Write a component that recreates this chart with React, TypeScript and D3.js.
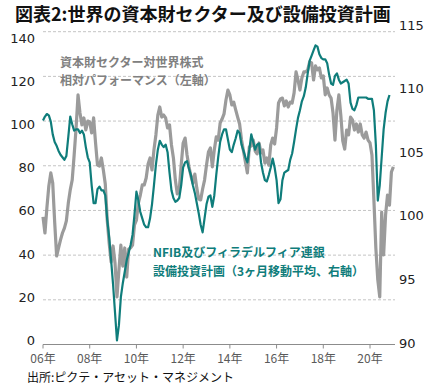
import * as d3 from "d3";

// monthly, from Jan 2006
const START_YEAR = 2006;

// 資本財セクター対世界株式 相対パフォーマンス (left axis)
const relPerf = [
  57.1, 49.9, 61.1, 71.0, 76.8, 72.3, 54.8, 39.6, 43.2, 46.8, 49.9, 52.1,
  55.3, 63.3, 69.2, 73.6, 84.8, 96.9, 111.7, 103.6, 98.3, 101.4, 96.0, 100.0,
  99.6, 94.7, 101.4, 90.2, 80.3, 79.9, 83.5, 78.1, 71.8, 55.7, 45.4, 36.9,
  44.1, 36.5, 21.3, 33.3, 44.5, 35.1, 43.2, 30.2, 42.7, 43.2, 44.5, 53.5,
  55.7, 63.3, 66.9, 71.4, 71.4, 74.5, 80.8, 83.5, 78.1, 87.1, 93.8, 102.7,
  106.3, 101.8, 102.7, 101.4, 96.9, 98.3, 89.3, 83.5, 73.6, 67.4, 69.2, 80.3,
  90.2, 92.4, 84.8, 79.5, 75.4, 72.3, 76.3, 70.1, 65.1, 64.7, 69.6, 73.6,
  80.3, 86.2, 88.0, 79.5, 87.1, 92.9, 91.5, 99.1, 100.9, 103.2, 109.4, 113.9,
  111.7, 107.2, 108.5, 105.0, 101.8, 98.7, 91.5, 86.6, 81.7, 76.8, 88.4, 88.9,
  91.5, 86.6, 85.3, 90.2, 85.7, 87.1, 81.2, 83.5, 80.3, 89.3, 92.4, 89.7,
  96.9, 108.1, 109.9, 110.3, 106.8, 109.0, 106.3, 108.5, 108.1, 112.6, 122.0, 118.4,
  113.9, 119.3, 122.0, 122.0, 122.9, 126.5, 126.0, 118.4, 124.7, 122.9, 123.8, 119.3,
  120.2, 111.7, 114.8, 111.7, 110.3, 103.6, 91.5, 105.0, 111.7, 102.7, 91.1, 87.5,
  96.0, 93.8, 101.8, 100.5, 96.0, 98.7, 95.1, 98.7, 93.8, 92.4, 95.1, 91.5,
  90.2, 84.8, 64.7, 43.2, 28.9, 21.3, 59.3, 40.1, 58.0, 66.9, 62.4, 77.2,
  79.5,
];

// NFIB及びフィラデルフィア連銀 設備投資計画 3ヶ月移動平均 (right axis)
const capexPlans = [
  107.5, 107.8, 108.0, 107.9, 107.4, 106.4, 105.8, 105.5, 105.1, 104.8, 104.6, 104.4,
  104.7, 106.2, 107.8, 107.2, 106.7, 106.8, 106.8, 106.5, 106.7, 106.4, 105.4, 104.6,
  104.2, 102.4, 101.0, 101.0, 102.1, 102.3, 102.0, 102.0, 101.6, 99.7, 98.3, 96.5,
  94.6, 92.4, 90.2, 91.4, 93.6, 94.7, 95.6, 96.5, 97.1, 97.7, 98.5, 100.1,
  101.9, 101.2, 100.3, 99.8, 99.3, 99.1, 99.1, 99.8, 100.9, 102.4, 104.0, 105.2,
  105.9, 105.6, 105.4, 105.6, 105.0, 103.4, 102.0, 101.4, 101.1, 101.2, 101.4, 102.4,
  103.8, 104.2, 104.3, 103.7, 103.2, 102.4, 101.8, 101.0, 100.2, 99.3, 98.7, 99.8,
  100.9, 101.5, 101.6, 100.7, 101.6, 103.2, 104.6, 105.8, 106.4, 106.8, 106.8, 106.0,
  105.2, 105.0, 105.6, 106.1, 106.7, 106.5, 105.6, 105.1, 104.6, 104.2, 105.2, 106.4,
  105.8, 105.2, 105.6, 105.7, 104.2, 103.4, 102.8, 102.7, 103.2, 103.8, 104.5, 103.8,
  102.8, 101.0, 101.3, 102.8, 103.4, 103.5, 103.6, 104.4, 104.9, 105.8, 106.8, 107.7,
  108.3, 109.0, 109.4, 110.1, 111.2, 112.2, 112.6, 113.0, 113.4, 113.3, 112.7, 112.4,
  112.3, 112.3, 112.0, 111.1, 110.4, 110.3, 111.0, 111.2, 110.7, 110.4, 110.5, 110.6,
  110.7, 110.4, 108.9, 108.4, 108.3, 108.7, 109.3, 109.3, 109.3, 109.3, 109.3, 109.2,
  109.2, 109.2, 108.3, 105.6, 101.2, 102.4, 104.6, 106.8, 108.1, 109.0, 109.5,
];

const leftTicks = [0, 20, 40, 60, 80, 100, 120, 140];
const rightTicks = [90, 95, 100, 105, 110, 115];
const yearTicks = [2006, 2008, 2010, 2012, 2014, 2016, 2018, 2020];
const yearLabels = ["06年", "08年", "10年", "12年", "14年", "16年", "18年", "20年"];

const TEAL = "#0f7d7b";
const GRAY = "#9b9b9b";
const JP = "'Noto Sans CJK JP', 'Noto Sans', sans-serif";
const NUM = "'DejaVu Sans', sans-serif";

export default function App() {
  const W = 442;
  const H = 390;
  const x = d3.scaleLinear().domain([2006, 2021.07]).range([43, 395]);
  const yL = d3.scaleLinear().domain([0, 140]).range([344.5, 31.7]);
  // the left labels sit a little off the gridlines in the original
  const yLab = d3.scaleLinear().domain([0, 140]).range([340.5, 38]);
  const yR = d3.scaleLinear().domain([90, 115]).range([343, 25]);

  const lineL = d3
    .line<number>()
    .x((_, i) => x(START_YEAR + i / 12))
    .y((d) => yL(d));
  const lineR = d3
    .line<number>()
    .x((_, i) => x(START_YEAR + i / 12))
    .y((d) => yR(d));

  const [x0, x1] = x.range();

  return (
    <svg
      width={W}
      height={H}
      viewBox={`0 0 ${W} ${H}`}
      style={{ position: "absolute", left: 0, top: 0, background: "#fff" }}
    >
      <text x={15} y={21} fontFamily={JP} fontSize={18} fontWeight={700} fill="#111">
        図表2:世界の資本財セクター及び設備投資計画
      </text>

      {leftTicks
        .filter((t) => t > 0)
        .map((t) => (
          <line
            key={t}
            x1={x0}
            x2={x1}
            y1={yL(t)}
            y2={yL(t)}
            stroke="#c4c4c4"
            strokeDasharray="3,2"
          />
        ))}

      {leftTicks.map((t) => (
        <text
          key={t}
          x={35}
          y={yLab(t)}
          textAnchor="end"
          dominantBaseline="central"
          fontFamily={NUM}
          fontSize={13}
          fill="#222"
        >
          {t}
        </text>
      ))}
      {rightTicks.map((t) => (
        <text
          key={t}
          x={399}
          y={yR(t)}
          dominantBaseline="central"
          fontFamily={NUM}
          fontSize={13}
          fill="#222"
        >
          {t}
        </text>
      ))}

      <line x1={x0} x2={x1} y1={yL(0)} y2={yL(0)} stroke="#8c8c8c" />
      {yearTicks.map((t, i) => (
        <g key={t}>
          <line x1={x(t)} x2={x(t)} y1={yL(0)} y2={yL(0) + 4} stroke="#8c8c8c" />
          <text
            x={x(t)}
            y={363}
            textAnchor="middle"
            fontFamily={JP}
            fontSize={12}
            fill="#5a5a5a"
          >
            {yearLabels[i]}
          </text>
        </g>
      ))}

      <path
        d={lineL(relPerf) ?? ""}
        fill="none"
        stroke={GRAY}
        strokeWidth={3.2}
        strokeLinejoin="round"
      />
      <path
        d={lineR(capexPlans) ?? ""}
        fill="none"
        stroke={TEAL}
        strokeWidth={2.2}
        strokeLinejoin="round"
      />

      <g fontFamily={JP} fontSize={12} fontWeight={700} fill="#808080">
        <text x={60} y={67}>資本財セクター対世界株式</text>
        <text x={60} y={85}>相対パフォーマンス（左軸）</text>
      </g>
      <g fontFamily={JP} fontSize={12} fontWeight={700} fill={TEAL}>
        <text x={153} y={257}>NFIB及びフィラデルフィア連銀</text>
        <text x={153} y={276}>設備投資計画（3ヶ月移動平均、右軸）</text>
      </g>

      <text x={27} y={382} fontFamily={JP} fontSize={12} fill="#111">
        出所:ピクテ・アセット・マネジメント
      </text>
    </svg>
  );
}
